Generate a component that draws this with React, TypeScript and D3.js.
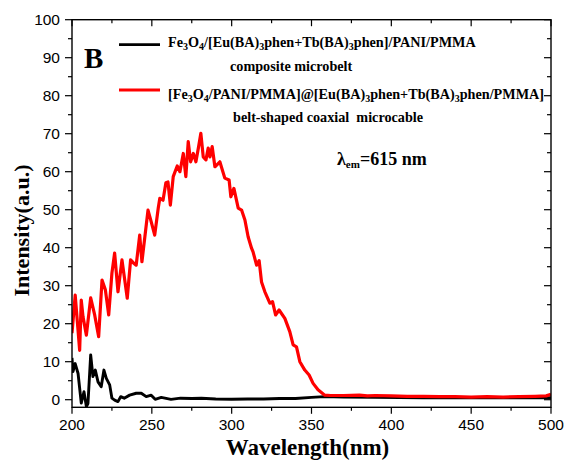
import React from "react";
import * as d3 from "d3";

const xTicks = [200, 250, 300, 350, 400, 450, 500];
const yTicks = [0, 10, 20, 30, 40, 50, 60, 70, 80, 90, 100];

const redWavelength = [200, 202, 204.8, 205.8, 206.9, 209, 211.7, 214.2, 216.7, 218.8, 220.9, 223, 225, 226.7, 228.8, 231.3, 234.6, 236.7, 238.5, 240.2, 242.4, 243.8, 247.6, 249.5, 251.8, 254, 255, 257, 258.8, 260.1, 261.6, 263.4, 265.9, 267.6, 269.7, 271.3, 272.8, 274.3, 276, 277.6, 279.3, 280.7, 282.2, 283.9, 285.3, 286.4, 287.8, 289.5, 292.6, 295.7, 298.4, 299.5, 301.4, 304.1, 306.2, 308.3, 310.3, 312.5, 313.4, 315.6, 317.2, 318.7, 320.8, 323.9, 325.6, 327.5, 329.7, 333.3, 336.4, 338.5, 340.6, 342.7, 345.8, 348.5, 351, 354.1, 358.3, 362, 370, 380, 385, 390, 400, 410, 420, 430, 440, 450, 460, 470, 480, 490, 497, 500];
const redIntensity = [17.5, 27.5, 13, 26.2, 21.8, 17, 26.8, 22.3, 16.6, 31.5, 28.9, 22.3, 33.3, 38.6, 28.4, 36.8, 26.7, 36.8, 36, 35.4, 43.3, 36.3, 49.9, 47, 43.3, 50.4, 53, 52.5, 57.1, 57.3, 51.2, 58.7, 61.5, 60, 64.8, 58.7, 67.9, 62.6, 64.8, 62.6, 66.6, 70.1, 63.9, 63.1, 66.2, 63.9, 66.6, 61.3, 62.6, 58.3, 57.8, 53.4, 55.6, 50.4, 49.9, 47.3, 42.9, 39.8, 38.9, 35.4, 36.6, 31, 28.4, 25.4, 25.8, 22.3, 23.6, 21.4, 17.9, 14.4, 13.9, 10, 7.8, 6.5, 4.3, 2.6, 1.2, 1.1, 1.1, 1.2, 1.0, 1.1, 1.0, 0.9, 0.9, 0.8, 0.8, 0.7, 0.8, 0.7, 0.8, 0.9, 1.0, 1.4];

const blackWavelength = [200, 200.6, 202, 203.8, 205.8, 207.5, 209, 210, 211.7, 213.1, 214.6, 216.3, 218.3, 220, 221.5, 223.6, 225, 226.7, 228.8, 230.5, 232.7, 236.1, 240.2, 243.4, 246.5, 249.6, 252.1, 255.9, 262, 268, 275, 281, 290, 300, 310, 320, 330, 340, 350, 358, 370, 390, 420, 450, 480, 500];
const blackIntensity = [11, 7.4, 9.5, 6.9, -0.9, 2.1, -1.8, -1, 11.8, 6.1, 7.8, 4.7, 3.4, 7.8, 5.6, 3.9, 0.4, -0.1, -0.5, 0.8, 0.4, 1.2, 1.7, 1.7, 0.8, 1.2, 0.1, 0.6, 0.1, 0.4, 0.3, 0.4, 0.2, 0.1, 0.2, 0.2, 0.3, 0.3, 0.6, 0.8, 0.7, 0.6, 0.5, 0.5, 0.5, 0.5];

const W = 566;
const H = 460;
const L = 72, R = 551, T = 19.7, B = 407.3;
const serif = "'Liberation Serif', 'Times New Roman', serif";
const sans = "'Liberation Sans', Arial, sans-serif";

export default function App() {
  const x = d3.scaleLinear().domain([200, 500]).range([L, R]);
  const y = d3.scaleLinear().domain([-2, 100]).range([B, T]);
  const line = d3.line<[number, number]>().x((d) => x(d[0])).y((d) => y(d[1]));
  const redPts = redWavelength.map((w, i) => [w, redIntensity[i]] as [number, number]);
  const blackPts = blackWavelength.map((w, i) => [w, blackIntensity[i]] as [number, number]);
  const xMinor = d3.range(200, 501, 25);
  const yMinor = d3.range(0, 101, 5);

  return (
    <svg width={W} height={H} style={{ position: "absolute", left: 0, top: 0, background: "#fff" }}>
      <rect x={0} y={0} width={W} height={H} fill="#fff" />
      <defs>
        <clipPath id="plotclip">
          <rect x={L} y={T} width={R - L} height={B - T} />
        </clipPath>
      </defs>
      <g clipPath="url(#plotclip)" fill="none" strokeLinejoin="round">
        <path d={line(blackPts) || ""} stroke="#000" strokeWidth={2.9} />
        <path d={line(redPts) || ""} stroke="#ff0000" strokeWidth={3.2} />
      </g>
      <rect x={L} y={T} width={R - L} height={B - T} fill="none" stroke="#000" strokeWidth={1.4} />
      {xMinor.map((v) => {
        const major = v % 50 === 0;
        const len = major ? 6.5 : 3.5;
        return (
          <g key={"xt" + v} stroke="#000" strokeWidth={1.2}>
            <line x1={x(v)} x2={x(v)} y1={B} y2={B + len} />
            <line x1={x(v)} x2={x(v)} y1={T} y2={T + len} />
          </g>
        );
      })}
      {yMinor.map((v) => {
        const major = v % 10 === 0;
        const len = major ? 7 : 4;
        return (
          <g key={"yt" + v} stroke="#000" strokeWidth={1.2}>
            <line x1={L - len} x2={L} y1={y(v)} y2={y(v)} />
            <line x1={R - len} x2={R} y1={y(v)} y2={y(v)} />
          </g>
        );
      })}
      {xTicks.map((v) => (
        <text key={"xl" + v} x={x(v)} y={430} textAnchor="middle" fontFamily={sans} fontSize={15.5} fill="#000">
          {v}
        </text>
      ))}
      {yTicks.map((v) => (
        <text key={"yl" + v} x={60} y={y(v) + 5.5} textAnchor="end" fontFamily={sans} fontSize={15.5} fill="#000">
          {v}
        </text>
      ))}
      <text x={(L + R) / 2 - 4} y={455} textAnchor="middle" fontFamily={serif} fontWeight="bold" fontSize={23} fill="#000">
        Wavelength(nm)
      </text>
      <text transform={`translate(29,230.5) rotate(-90)`} textAnchor="middle" fontFamily={serif} fontWeight="bold" fontSize={22} fill="#000">
        Intensity(a.u.)
      </text>
      <text x={84} y={68} fontFamily={serif} fontWeight="bold" fontSize={29} fill="#000">B</text>
      <line x1={119} x2={160} y1={44.7} y2={44.7} stroke="#000" strokeWidth={2.8} />
      <text x={168} y={47} fontFamily={serif} fontWeight="bold" fontSize={14.2} fill="#000">
        Fe<tspan fontSize={10} dy={3}>3</tspan><tspan dy={-3}>O</tspan><tspan fontSize={10} dy={3}>4</tspan><tspan dy={-3}>/[Eu(BA)</tspan><tspan fontSize={10} dy={3}>3</tspan><tspan dy={-3}>phen+Tb(BA)</tspan><tspan fontSize={10} dy={3}>3</tspan><tspan dy={-3}>phen]/PANI/PMMA</tspan>
      </text>
      <text x={230} y={70.5} fontFamily={serif} fontWeight="bold" fontSize={14.2} fill="#000">composite microbelt</text>
      <line x1={119} x2={160} y1={90} y2={90} stroke="#ff0000" strokeWidth={2.8} />
      <text x={168} y={99} fontFamily={serif} fontWeight="bold" fontSize={14.2} fill="#000">
        [Fe<tspan fontSize={10} dy={3}>3</tspan><tspan dy={-3}>O</tspan><tspan fontSize={10} dy={3}>4</tspan><tspan dy={-3}>/PANI/PMMA]@[Eu(BA)</tspan><tspan fontSize={10} dy={3}>3</tspan><tspan dy={-3}>phen+Tb(BA)</tspan><tspan fontSize={10} dy={3}>3</tspan><tspan dy={-3}>phen/PMMA]</tspan>
      </text>
      <text x={233} y={121.5} fontFamily={serif} fontWeight="bold" fontSize={14.2} fill="#000" style={{ whiteSpace: "pre" }}>
        {"belt-shaped coaxial  microcable"}
      </text>
      <text x={337} y={165} fontFamily={serif} fontWeight="bold" fontSize={18} fill="#000">
        λ<tspan fontSize={11} dy={3}>em</tspan><tspan dy={-3}>=615 nm</tspan>
      </text>
    </svg>
  );
}
